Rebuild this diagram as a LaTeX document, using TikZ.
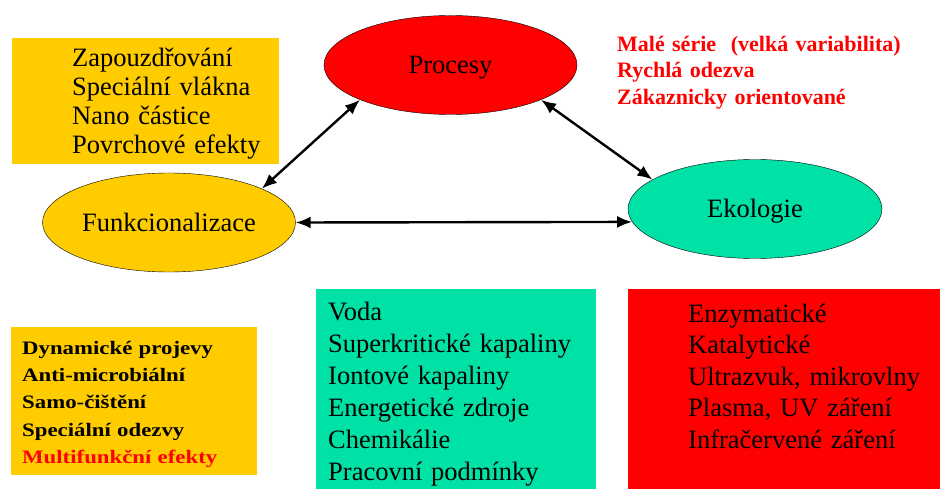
\documentclass[tikz,border=0pt]{standalone}
\usepackage{fontspec}
\setmainfont{Liberation Serif}
\newfontfamily\widebold[FakeStretch=1.2]{Liberation Serif}
\usetikzlibrary{arrows.meta}
\usetikzlibrary{shapes.geometric}

\definecolor{boxyellow}{RGB}{255,204,0}
\definecolor{boxgreen}{RGB}{0,225,165}
\definecolor{boxred}{RGB}{255,0,0}

\begin{document}
\begin{tikzpicture}[
		x=1pt, y=-1pt,
		bubble/.style={
		% The shape:
		ellipse,
		% The size:
		minimum width=253pt,
		minimum height=99pt,
		inner sep=0pt,
		% The border:
		draw=black,
		thin,
		% Font
		font=\fontsize{26.5}{29}\selectfont,
		text height=18pt,
		text depth=0pt
		},
		listbox/.style={
		% The shape:
		rectangle,
		anchor=north west,
		inner sep=0pt,
		align=left,
		% Font
		font=\fontsize{26.5}{32}\selectfont
		},
		link/.style={
		{Latex[length=15pt,width=12pt]}-{Latex[length=15pt,width=12pt]},
		line width=2.4pt
		}
	]
	\useasboundingbox (0,0) rectangle (940,489);

	% the three main topics
	\node (proc)[bubble, fill=boxred] at (450.5,65) {Procesy};
	\node (func)[bubble, fill=boxyellow] at (169,222.5) {Funkcionalizace};
	\node (eco)[bubble, fill=boxgreen, minimum width=254pt] at (755,209) {Ekologie};

	% boxes with details
	\node (funclist)[listbox, fill=boxyellow, text width=267pt, text height=28pt, text depth=98pt,
		font=\fontsize{26.5}{29}\selectfont, execute at begin node={\leftskip=60pt}] at (12,38)
		{Zapouzdřování\\Speciální vlákna\\Nano částice\\Povrchové efekty};
	\node (proclist)[listbox, text width=300pt, text height=20pt, text depth=60pt, text=boxred,
		font=\fontsize{22}{26.7}\selectfont\bfseries] at (617,31)
		{Malé série\ \ (velká variabilita)\\Rychlá odezva\\Zákaznicky orientované};
	\node (efflist)[listbox, fill=boxyellow, text width=246pt, text height=27pt, text depth=121pt,
		font=\fontsize{19}{27.3}\selectfont\widebold\bfseries, execute at begin node={\leftskip=11pt}] at (11,327)
		{Dynamické projevy\\Anti-microbiální\\Samo-čištění\\Speciální odezvy\\\textcolor{boxred}{Multifunkční efekty}};
	\node (ecolist)[listbox, fill=boxgreen, text width=280pt, text height=31pt, text depth=169pt,
		execute at begin node={\leftskip=12pt}] at (316,289)
		{Voda\\Superkritické kapaliny\\Iontové kapaliny\\Energetické zdroje\\Chemikálie\\Pracovní podmínky};
	\node (techlist)[listbox, fill=boxred, text width=312pt, text height=33pt, text depth=167pt,
		font=\fontsize{26.5}{31.5}\selectfont, execute at begin node={\leftskip=60pt}] at (628,289)
		{Enzymatické\\Katalytické\\Ultrazvuk, mikrovlny\\Plasma, UV záření\\Infračervené záření};

	\draw [link] (proc.201) -- (func.20);
	\draw [link] (proc.339) -- (eco.164);
	\draw [link] (func.0) -- (eco.186);
\end{tikzpicture}
\end{document}
